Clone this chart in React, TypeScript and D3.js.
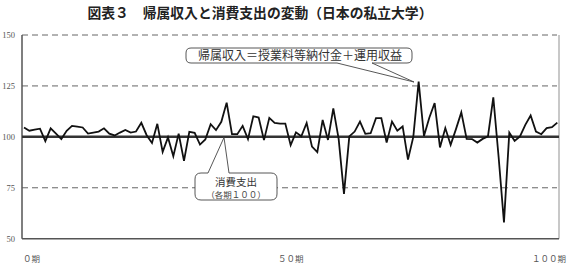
import React from "react";
import * as d3 from "d3";

const periods: number[] = d3.range(0, 101);
const incomeValues: number[] = [
  104.6, 103, 103.6, 104, 97.9, 104.2, 101.6, 98.9, 103, 105.4,
  105, 104.6, 101.6, 102.1, 102.6, 104.2, 101.6, 100.7, 102.1, 103.4,
  102.1, 102.6, 106.9, 100.8, 97, 106.4, 92.6, 99.7, 90.5, 101.6,
  88.2, 102.5, 102, 96.2, 98.7, 106.2, 103.3, 107.4, 116.8, 101.3,
  101.3, 105.4, 98.9, 110.1, 109.5, 98.4, 109.3, 106.9, 106.5, 106.5,
  95.9, 102.2, 100.3, 106.8, 95.2, 92.5, 108.3, 98.5, 114, 99,
  72, 100.2, 102.6, 107.5, 101.5, 101.8, 109.2, 109.2, 97.2, 107.5,
  103, 105.1, 88.8, 100, 127.1, 100.4, 109.4, 116.6, 94.8, 104.3,
  96.1, 103.8, 112, 99, 98.9, 97.2, 99, 100.2, 119.4, 90,
  58, 102.1, 98, 100.2, 105.9, 110.5, 102.6, 101.3, 104.3, 104.8,
  107,
];
const yTicks: number[] = [50, 75, 100, 125, 150];
const dashedTicks: number[] = [75, 125, 150];
const xLabels: { p: number; label: string; anchor: string }[] = [
  { p: 0, label: "０期", anchor: "start" },
  { p: 50, label: "５０期", anchor: "middle" },
  { p: 100, label: "１００期", anchor: "end" },
];
const title = "図表３　帰属収入と消費支出の変動（日本の私立大学）";
const calloutIncome = "帰属収入＝授業料等納付金＋運用収益";
const calloutCost = ["消費支出", "（各期１００）"];

const W = 567;
const H = 271;
const left = 22;
const right = 559;
const top = 35;
const bottom = 238.7;

function calloutPath(
  x0: number, y0: number, x1: number, y1: number, r: number,
  side: "top" | "bottom", b1: number, b2: number, tx: number, ty: number
): string {
  const p = d3.path();
  p.moveTo(x0 + r, y0);
  if (side === "top") {
    p.lineTo(b1, y0);
    p.lineTo(tx, ty);
    p.lineTo(b2, y0);
  }
  p.lineTo(x1 - r, y0);
  p.quadraticCurveTo(x1, y0, x1, y0 + r);
  p.lineTo(x1, y1 - r);
  p.quadraticCurveTo(x1, y1, x1 - r, y1);
  if (side === "bottom") {
    p.lineTo(b2, y1);
    p.lineTo(tx, ty);
    p.lineTo(b1, y1);
  }
  p.lineTo(x0 + r, y1);
  p.quadraticCurveTo(x0, y1, x0, y1 - r);
  p.lineTo(x0, y0 + r);
  p.quadraticCurveTo(x0, y0, x0 + r, y0);
  p.closePath();
  return p.toString();
}

export default function App() {
  const x = d3.scaleLinear().domain([0, 100]).range([24, 557.3]);
  const y = d3.scaleLinear().domain([50, 150]).range([bottom, top]);
  const line = d3
    .line<number>()
    .x((_, i) => x(periods[i]))
    .y((d) => y(d));

  const serif = "'Liberation Serif', 'Noto Sans CJK JP', serif";
  const cjk = "'Noto Sans CJK JP', sans-serif";

  return (
    <svg
      width={W}
      height={H}
      style={{ position: "absolute", left: 0, top: 0, background: "#fff" }}
    >
      <text
        x={260}
        y={18}
        textAnchor="middle"
        fontFamily={cjk}
        fontWeight={600}
        fontSize={13.8}
        fill="#222"
      >
        {title}
      </text>

      {dashedTicks.map((t) => (
        <line
          key={t}
          x1={left}
          x2={right - 2}
          y1={y(t)}
          y2={y(t)}
          stroke="#666"
          strokeWidth={1}
          strokeDasharray="6,4"
        />
      ))}
      <line x1={right} x2={right} y1={top} y2={bottom} stroke="#c8c8c8" strokeWidth={2} />
      <line x1={left} x2={left} y1={top} y2={bottom} stroke="#555" strokeWidth={1.5} />
      <line x1={left} x2={right} y1={bottom} y2={bottom} stroke="#555" strokeWidth={1.5} />
      <line x1={left} x2={right} y1={y(100)} y2={y(100)} stroke="#333" strokeWidth={2.5} />

      {yTicks.map((t) => (
        <text
          key={t}
          x={15}
          y={y(t) + 3}
          textAnchor="end"
          fontFamily={serif}
          fontSize={8.5}
          fill="#555"
        >
          {t}
        </text>
      ))}

      {xLabels.map((l) => (
        <text
          key={l.p}
          x={l.anchor === "start" ? 23 : l.anchor === "end" ? 566 : x(l.p)}
          y={262}
          textAnchor={l.anchor}
          fontFamily={cjk}
          fontSize={8.5}
          fill="#555"
        >
          {l.label}
        </text>
      ))}

      <path d={line(incomeValues) || ""} fill="none" stroke="#111" strokeWidth={1.8} strokeLinejoin="miter" />

      <path
        d={calloutPath(186, 48, 412, 63, 5, "bottom", 337, 372, 414, 82)}
        fill="#fff"
        stroke="#444"
        strokeWidth={0.9}
      />
      <text
        x={300}
        y={59.8}
        textAnchor="middle"
        fontFamily={cjk}
        fontSize={12}
        fill="#333"
      >
        {calloutIncome}
      </text>

      <path
        d={calloutPath(195, 173, 277, 200, 6, "top", 208, 229, 224, 137.5)}
        fill="#fff"
        stroke="#444"
        strokeWidth={0.9}
      />
      <text x={236} y={185.5} textAnchor="middle" fontFamily={cjk} fontSize={10.5} fill="#333">
        {calloutCost[0]}
      </text>
      <text x={236} y={197.8} textAnchor="middle" fontFamily={cjk} fontSize={8.5} fill="#444">
        {calloutCost[1]}
      </text>
    </svg>
  );
}
